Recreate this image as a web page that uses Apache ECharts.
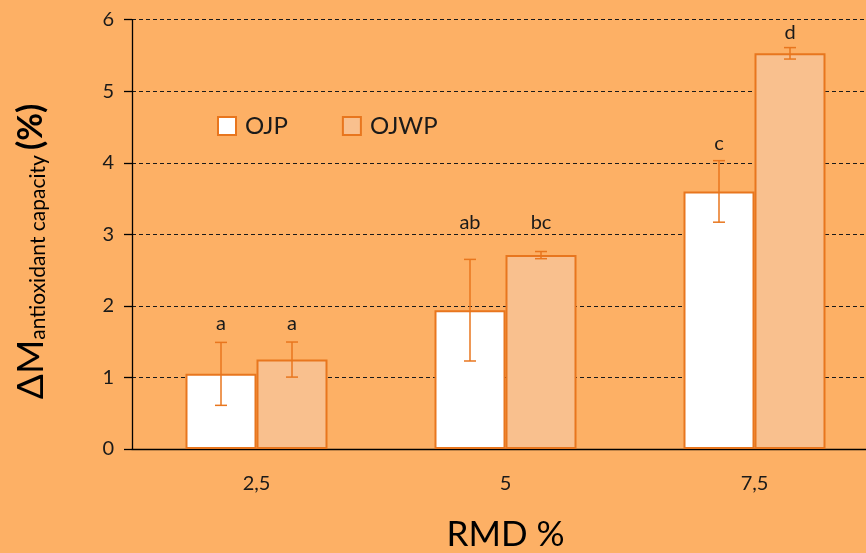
<!DOCTYPE html>
<html><head><meta charset="utf-8">
<script src="https://cdn.jsdelivr.net/npm/echarts@6/dist/echarts.min.js"></script>
<style>html,body{margin:0;padding:0;background:#FDB065;}#c{width:866px;height:553px;}</style>
</head><body><div id="c"></div>
<script>
var categories = ['2,5', '5', '7,5'];
var ojpValues = [1.05, 1.94, 3.60];
var ojpErrors = [0.44, 0.71, 0.43];
var ojwpValues = [1.25, 2.71, 5.53];
var ojwpErrors = [0.245, 0.05, 0.08];
var ojpLetters = ['a', 'ab', 'c'];
var ojwpLetters = ['a', 'bc', 'd'];
var ojpLetterY = [1.67, 3.08, 4.19];
var ojwpLetterY = [1.67, 3.08, 5.74];
var yTicks = [0, 1, 2, 3, 4, 5, 6];

var FONT = 'Lato';
var ORANGE = '#E8761E';
var BAR_W = 71;

function errSeries(vals, errs, letters, letterY, side) {
  return {
    type: 'custom',
    z: 5,
    data: vals.map(function (v, i) { return [i, v, errs[i], letterY[i]]; }),
    renderItem: function (params, api) {
      var i = api.value(0), v = api.value(1), e = api.value(2), ly = api.value(3);
      var c = api.coord([i, v]);
      var x = c[0] + side * BAR_W / 2;
      var top = api.coord([i, v + e])[1];
      var bot = api.coord([i, v - e])[1];
      var lyPix = api.coord([i, ly])[1];
      var cap = 6;
      var st = { stroke: ORANGE, lineWidth: 1.5 };
      return {
        type: 'group',
        children: [
          { type: 'line', shape: { x1: x, y1: top, x2: x, y2: bot }, style: st },
          { type: 'line', shape: { x1: x - cap, y1: top, x2: x + cap, y2: top }, style: st },
          { type: 'line', shape: { x1: x - cap, y1: bot, x2: x + cap, y2: bot }, style: st },
          { type: 'text', x: x, y: lyPix + 4, style: { text: letters[params.dataIndex], fill: '#1a1a1a', font: '20px ' + FONT, align: 'center', verticalAlign: 'bottom' } }
        ]
      };
    }
  };
}

var chart = echarts.init(document.getElementById('c'));
chart.setOption({
  backgroundColor: '#FDB065',
  animation: false,
  grid: { left: 132, right: -13, top: 19.7, bottom: 104, containLabel: false, outerBoundsMode: 'none' },
  legend: {
    left: 217, top: 114, padding: 0,
    itemWidth: 18, itemHeight: 18, itemGap: 54,
    icon: 'rect',
    textStyle: { fontFamily: FONT, fontSize: 24, color: '#1a1a1a', padding: [0, 0, 0, 4] },
    data: [
      { name: 'OJP', itemStyle: { color: '#ffffff', borderColor: ORANGE, borderWidth: 2 } },
      { name: 'OJWP', itemStyle: { color: '#F9C08E', borderColor: ORANGE, borderWidth: 2 } }
    ]
  },
  xAxis: {
    type: 'category',
    data: categories,
    axisLine: { lineStyle: { color: '#000', width: 1.3 } },
    axisTick: { length: 8, lineStyle: { color: '#000', width: 1.3 } },
    axisLabel: { margin: 25, fontFamily: FONT, fontSize: 20, color: '#1a1a1a' },
    name: 'RMD %',
    nameLocation: 'middle',
    nameGap: 68,
    nameTextStyle: { fontFamily: FONT, fontSize: 35, color: '#000' }
  },
  yAxis: {
    type: 'value',
    min: yTicks[0], max: yTicks[yTicks.length - 1], interval: 1,
    axisLine: { show: true, lineStyle: { color: '#000', width: 1.3 } },
    axisTick: { show: true, length: 8, lineStyle: { color: '#000', width: 1.3 } },
    axisLabel: { margin: 18, fontFamily: FONT, fontSize: 20, color: '#1a1a1a' },
    splitLine: { lineStyle: { color: '#1a1a1a', type: [4, 3], width: 1.2 } },
    name: '{m|ΔM}{s|antioxidant capacity}{p|(%)}',
    nameLocation: 'middle',
    nameRotate: 90,
    nameGap: 80,
    nameTextStyle: {
      padding: [0, 34, 0, 0],
      rich: {
        m: { fontFamily: FONT, fontSize: 37, color: '#000', lineHeight: 42 },
        s: { fontFamily: FONT, fontSize: 21, color: '#000', lineHeight: 42, padding: [15, 5, 0, 0] },
        p: { fontFamily: FONT, fontSize: 34, fontWeight: 'bold', color: '#000', lineHeight: 42 }
      }
    }
  },
  series: [
    { name: 'OJP', type: 'bar', data: ojpValues, barWidth: BAR_W, barGap: '0%',
      itemStyle: { color: '#ffffff', borderColor: ORANGE, borderWidth: 2 } },
    { name: 'OJWP', type: 'bar', data: ojwpValues, barWidth: BAR_W, barGap: '0%',
      itemStyle: { color: '#F9C08E', borderColor: ORANGE, borderWidth: 2 } },
    errSeries(ojpValues, ojpErrors, ojpLetters, ojpLetterY, -1),
    errSeries(ojwpValues, ojwpErrors, ojwpLetters, ojwpLetterY, 1)
  ]
});
</script></body></html>
